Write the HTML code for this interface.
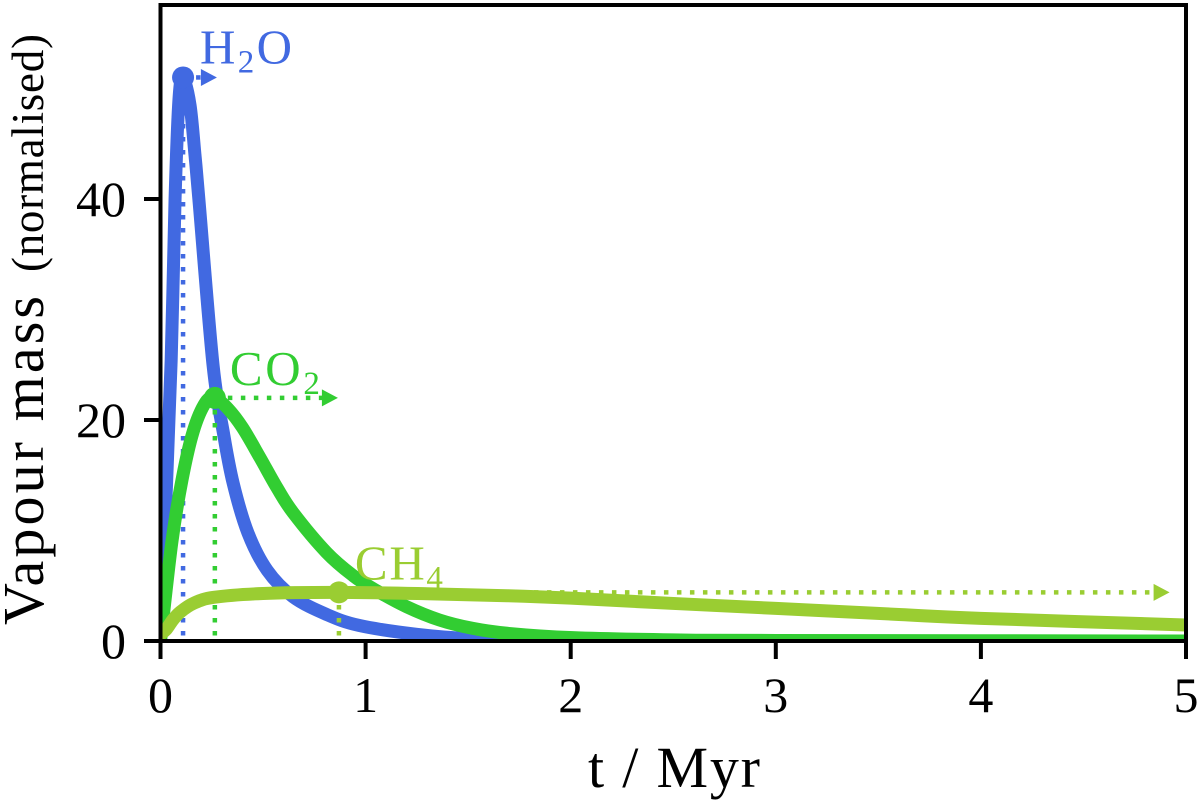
<!DOCTYPE html>
<html lang="en">
<head>
<meta charset="utf-8">
<title>Vapour mass over time</title>
<style>
html,body{margin:0;padding:0;background:#fff;width:1200px;height:804px;overflow:hidden}
svg{display:block}
text{font-family:"Liberation Serif",serif;fill:#000}
</style>
</head>
<body>
<svg id="chart" width="1200" height="804" viewBox="0 0 1200 804" xmlns="http://www.w3.org/2000/svg">
  <defs>
    <clipPath id="plot-clip"><rect x="160.5" y="5" width="1025.5" height="636"></rect></clipPath>
  </defs>
  <rect x="0" y="0" width="1200" height="804" fill="#fff"></rect>
  <g id="series"></g>
  <g id="labels"></g>
  <rect x="160.5" y="5" width="1025.5" height="636" fill="none" stroke="#000" stroke-width="4"></rect>
  <g id="axes"></g>
  <text x="588" y="787" font-size="58" textLength="172" lengthAdjust="spacing">t / Myr</text>
  <g>
    <text transform="translate(43,625) rotate(-90)" x="0" y="0" font-size="58" textLength="329" lengthAdjust="spacing">Vapour mass</text>
    <text transform="translate(43,272) rotate(-90)" x="0" y="0" font-size="45" textLength="238" lengthAdjust="spacing">(normalised)</text>
  </g>
</svg>
<script>
// ----- data -----
const xTickLabels = [0, 1, 2, 3, 4, 5];
const yTickLabels = [0, 20, 40];

const h2oTime = [0, 0.025, 0.052, 0.071, 0.09, 0.11, 0.144, 0.168, 0.187, 0.256, 0.307, 0.354, 0.426, 0.52, 0.646, 0.81, 0.97, 1.25, 1.52, 2, 3, 5];
const h2oMass = [0, 12, 25.4, 40, 49, 51, 48.5, 44, 40, 25, 18.8, 14.3, 9.8, 6.4, 4, 2.4, 1.4, 0.6, 0.2, 0.02, 0, 0];

const co2Time = [0, 0.055, 0.105, 0.16, 0.22, 0.265, 0.33, 0.4, 0.485, 0.567, 0.647, 0.81, 0.94, 1.04, 1.2, 1.36, 1.52, 1.69, 2.01, 2.5, 3, 5];
const co2Mass = [0, 8.9, 14.6, 19, 21.6, 22, 21, 19.3, 16.6, 13.9, 11.6, 8, 5.9, 4.7, 3.1, 1.9, 1.15, 0.7, 0.3, 0.1, 0.05, 0];

const ch4Time = [0, 0.03, 0.06, 0.095, 0.16, 0.26, 0.5, 0.87, 1.3, 1.69, 2, 2.5, 3, 3.6, 4, 5];
const ch4Mass = [0.6, 1.1, 1.9, 2.6, 3.4, 3.95, 4.3, 4.4, 4.28, 4.1, 3.88, 3.4, 2.95, 2.4, 2.05, 1.45];

const peakTime = [0.11, 0.265, 0.87];
const peakMass = [51, 22, 4.4];
const arrowEndTime = [0.275, 0.865, 4.92];

// ----- axis functions -----
function xScale(t) { return 160.5 + t * 205.1; }
function yScale(v) { return 641 - v * 11.05; }

const NS = 'http://www.w3.org/2000/svg';
function make(tag, attrs, parent) {
  const el = document.createElementNS(NS, tag);
  for (const k in attrs) el.setAttribute(k, attrs[k]);
  parent.appendChild(el);
  return el;
}
function smoothPath(ts, vs) {
  const p = ts.map((t, i) => [xScale(t), yScale(vs[i])]);
  let d = 'M' + p[0][0].toFixed(2) + ' ' + p[0][1].toFixed(2);
  for (let i = 0; i < p.length - 1; i++) {
    const a = p[Math.max(i - 1, 0)], b = p[i], c = p[i + 1], e = p[Math.min(i + 2, p.length - 1)];
    const c1x = b[0] + (c[0] - a[0]) / 6, c1y = b[1] + (c[1] - a[1]) / 6;
    const c2x = c[0] - (e[0] - b[0]) / 6, c2y = c[1] - (e[1] - b[1]) / 6;
    d += 'C' + c1x.toFixed(2) + ' ' + c1y.toFixed(2) + ' ' + c2x.toFixed(2) + ' ' + c2y.toFixed(2) + ' ' + c[0].toFixed(2) + ' ' + c[1].toFixed(2);
  }
  return d;
}

const seriesGroup = document.getElementById('series');
seriesGroup.setAttribute('clip-path', 'url(#plot-clip)');
const labelGroup = document.getElementById('labels');
const axesGroup = document.getElementById('axes');

function drawSeries(key, color, ts, vs, idx, radius, dotWidth) {
  const px = xScale(peakTime[idx]), py = yScale(peakMass[idx]);

  const drop = make('line', {x1: px, y1: 635.5, x2: px, y2: py, stroke: color, 'stroke-width': dotWidth, 'stroke-dasharray': '4.5 8.5'}, seriesGroup);
  
  

  const tip = xScale(arrowEndTime[idx]);
  const shaft = make('line', {x1: px + 13, y1: py, x2: tip - 14, y2: py, stroke: color, 'stroke-width': dotWidth, 'stroke-dasharray': '4.5 8.5'}, seriesGroup);
  
  

  const head = make('polygon', {points: (tip - 16) + ',' + (py - 8.5) + ' ' + tip + ',' + py + ' ' + (tip - 16) + ',' + (py + 8.5), fill: color}, seriesGroup);
  
  

  const line = make('path', {d: smoothPath(ts, vs), fill: 'none', stroke: color, 'stroke-width': 13, 'stroke-linejoin': 'round', 'stroke-linecap': 'round'}, seriesGroup);
  
  

  const dot = make('circle', {cx: px, cy: py, r: radius, fill: color}, seriesGroup);
  
  
}

drawSeries('h2o', '#4169e1', h2oTime, h2oMass, 0, 11, 4.5);
drawSeries('co2', '#32cd32', co2Time, co2Mass, 1, 11, 4.5);
drawSeries('ch4', '#9acd32', ch4Time, ch4Mass, 2, 11, 4.5);

function drawLabel(key, color, idx, dx, dy, first, sub, last, len) {
  const t = make('text', {x: xScale(peakTime[idx]) + dx, y: yScale(peakMass[idx]) + dy, 'font-size': 49, fill: color, textLength: len, lengthAdjust: 'spacing'}, labelGroup);
  t.style.fill = color;
  
  
  const a = make('tspan', {}, t);
  a.textContent = first;
  const b = make('tspan', {'font-size': 33, dy: 9}, t);
  b.textContent = sub;
  if (last) {
    const c = make('tspan', {dy: -9}, t);
    c.textContent = last;
  }
}
drawLabel('h2o', '#4169e1', 0, 17, -14, 'H', '2', 'O', 92);
drawLabel('co2', '#32cd32', 1, 15, -13, 'CO', '2', '', 90);
drawLabel('ch4', '#9acd32', 2, 16, -13, 'CH', '4', '', 88);

xTickLabels.forEach(function (v) {
  const x = xScale(v);
  const tick = make('line', {x1: x, y1: 641, x2: x, y2: 659, stroke: '#000', 'stroke-width': 4}, axesGroup);
  
  
  const lab = make('text', {x: x, y: 712, 'font-size': 50, 'text-anchor': 'middle'}, axesGroup);
  lab.textContent = v;
  
  
});
yTickLabels.forEach(function (v) {
  const y = yScale(v);
  const tick = make('line', {x1: 144, y1: y, x2: 160.5, y2: y, stroke: '#000', 'stroke-width': 4}, axesGroup);
  
  
  const lab = make('text', {x: 126, y: y + 17, 'font-size': 50, 'text-anchor': 'end'}, axesGroup);
  lab.textContent = v;
  
  
});
</script>
</body>
</html>
